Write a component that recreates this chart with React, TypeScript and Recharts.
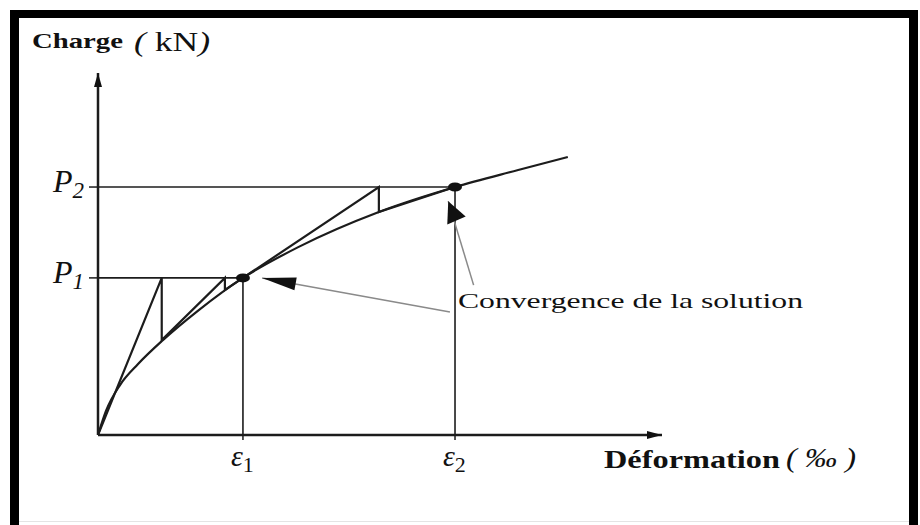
import { ComposedChart, Line, XAxis, YAxis, ReferenceLine, ReferenceDot } from "recharts";

// load-deformation curve (x: deformation, y: load)
const curveX = [0, 0.14, 0.39, 0.71, 1.15, 1.77, 2.57, 3.55, 4.98, 6.33, 7.45, 8.33];
const curveY = [0, 6.6, 13.8, 19.6, 26.2, 34.3, 43.4, 51.9, 61.6, 68.5, 73.2, 76.8];

// iteration paths for the two load steps
const step1X = [0, 1.13, 1.13, 2.25, 2.25, 2.57];
const step1Y = [0, 43.4, 26.2, 43.4, 40.1, 43.4];
const step2X = [2.57, 4.98, 4.98, 6.33];
const step2Y = [43.4, 68.5, 61.6, 68.5];

// converged points
const epsValues = [2.57, 6.33];
const loadValues = [43.4, 68.5];
const epsLabels = ["1", "2"];
const loadLabels = ["1", "2"];

// annotation arrows: [tail, tip]
const arrowLeft = [{ x: 6.24, y: 34.0 }, { x: 2.91, y: 43.4 }];
const arrowUp = [{ x: 6.66, y: 41.4 }, { x: 6.21, y: 64.6 }];

const curve = curveX.map((x, i) => ({ x, y: curveY[i] }));
const step1 = step1X.map((x, i) => ({ x, y: step1Y[i] }));
const step2 = step2X.map((x, i) => ({ x, y: step2Y[i] }));

const INK = "#1c1c1c";
const SERIF = { fontFamily: "'Liberation Serif', 'Times New Roman', serif" };

function arrowHead(angle: number, len: number, half: number) {
  return (props: any) => {
    const { cx, cy } = props;
    if (cx == null || cy == null) return <g />;
    return (
      <polygon
        points={`0,0 ${-len},${-half} ${-len},${half}`}
        transform={`translate(${cx},${cy}) rotate(${angle})`}
        fill="#111"
      />
    );
  };
}

function dotShape(props: any) {
  const { cx, cy } = props;
  if (cx == null || cy == null) return <g />;
  return <ellipse cx={cx} cy={cy} rx={7} ry={4.5} fill="#111" />;
}

function EpsTick(props: any) {
  const { x, y, payload } = props;
  const i = epsValues.indexOf(payload.value);
  return (
    <text x={x - 12} y={y + 24} style={SERIF} fill="#111">
      <tspan fontSize={30} fontStyle="italic">ε</tspan>
      <tspan fontSize={22} dy={6}>{epsLabels[i]}</tspan>
    </text>
  );
}

function LoadTick(props: any) {
  const { x, y, payload } = props;
  const i = loadValues.indexOf(payload.value);
  return (
    <text x={x - 2} y={y + 5} textAnchor="end" style={SERIF} fill="#111">
      <tspan fontSize={32} fontStyle="italic">P</tspan>
      <tspan fontSize={23} fontStyle="italic" dy={6}>{loadLabels[i]}</tspan>
    </text>
  );
}

export default function App() {
  return (
    <div style={{ position: "absolute", left: 0, top: 0, width: 920, height: 525, background: "#fff", overflow: "hidden" }}>
      <div
        style={{
          position: "absolute",
          left: 10,
          top: 10,
          width: 890,
          height: 520,
          borderTop: "8px solid #000",
          borderLeft: "9px solid #000",
          borderRight: "9px solid #000",
        }}
      />
      <div style={{ position: "absolute", left: 19, top: 521, width: 890, height: 1, background: "#e4e4e4" }} />

      <div style={{ position: "absolute", left: 0, top: 0 }}>
        <ComposedChart width={920} height={525} margin={{ top: 73, right: 258, bottom: 50, left: 0 }}>
          <XAxis
            type="number"
            dataKey="x"
            domain={[0, 10]}
            ticks={epsValues}
            tick={<EpsTick />}
            tickSize={5}
            height={40}
            axisLine={{ stroke: INK, strokeWidth: 2.5 }}
            tickLine={{ stroke: INK, strokeWidth: 1.5 }}
            allowDataOverflow
          />
          <YAxis
            type="number"
            dataKey="y"
            domain={[0, 100]}
            ticks={loadValues}
            tick={<LoadTick />}
            tickSize={9}
            tickMargin={3}
            width={98}
            axisLine={{ stroke: INK, strokeWidth: 2.5 }}
            tickLine={{ stroke: INK, strokeWidth: 1.5 }}
            allowDataOverflow
          />

          {epsValues.map((e, i) => (
            <ReferenceLine
              key={`h${i}`}
              segment={[{ x: 0, y: loadValues[i] }, { x: e, y: loadValues[i] }]}
              stroke={INK}
              strokeWidth={1.6}
            />
          ))}
          {epsValues.map((e, i) => (
            <ReferenceLine
              key={`v${i}`}
              segment={[{ x: e, y: 0 }, { x: e, y: loadValues[i] }]}
              stroke={INK}
              strokeWidth={1.6}
            />
          ))}

          <ReferenceLine segment={arrowLeft} stroke="#8a8a8a" strokeWidth={1.5} />
          <ReferenceLine segment={arrowUp} stroke="#8a8a8a" strokeWidth={1.5} />

          <Line data={curve} dataKey="y" type="monotone" stroke={INK} strokeWidth={2.2} dot={false} isAnimationActive={false} />
          <Line data={step1} dataKey="y" type="linear" stroke={INK} strokeWidth={2.2} dot={false} isAnimationActive={false} />
          <Line data={step2} dataKey="y" type="linear" stroke={INK} strokeWidth={2.2} dot={false} isAnimationActive={false} />

          {epsValues.map((e, i) => (
            <ReferenceDot key={`d${i}`} x={e} y={loadValues[i]} r={5} shape={dotShape} />
          ))}

          <ReferenceDot x={arrowLeft[1].x} y={arrowLeft[1].y} r={4} shape={arrowHead(190.2, 34, 6.5)} />
          <ReferenceDot x={arrowUp[1].x} y={arrowUp[1].y} r={4} shape={arrowHead(-113.1, 21, 10)} />
          <ReferenceDot x={10} y={0} r={4} shape={arrowHead(0, 15, 4)} ifOverflow="visible" />
          <ReferenceDot x={0} y={100} r={4} shape={arrowHead(-90, 14, 4)} ifOverflow="visible" />
        </ComposedChart>
      </div>

      <svg width={920} height={525} style={{ position: "absolute", left: 0, top: 0, pointerEvents: "none", ...SERIF }}>
        <text x={32} y={48} fontWeight="bold" fontSize={22} textLength={91} lengthAdjust="spacingAndGlyphs" fill="#111">
          Charge
        </text>
        <text x={134} y={51} fontSize={28} textLength={76} lengthAdjust="spacingAndGlyphs" fill="#111">
          <tspan fontStyle="italic">(</tspan> kN<tspan fontStyle="italic">)</tspan>
        </text>
        <text x={604} y={468} fontWeight="bold" fontSize={25} textLength={176} lengthAdjust="spacingAndGlyphs" fill="#111">
          Déformation
        </text>
        <text x={786} y={467} fontSize={28} fontStyle="italic" textLength={70} lengthAdjust="spacingAndGlyphs" fill="#111">
          ( ‰ )
        </text>
        <text x={458} y={308} fontSize={22} textLength={345} lengthAdjust="spacingAndGlyphs" fill="#111">
          Convergence  de la solution
        </text>
      </svg>
    </div>
  );
}
